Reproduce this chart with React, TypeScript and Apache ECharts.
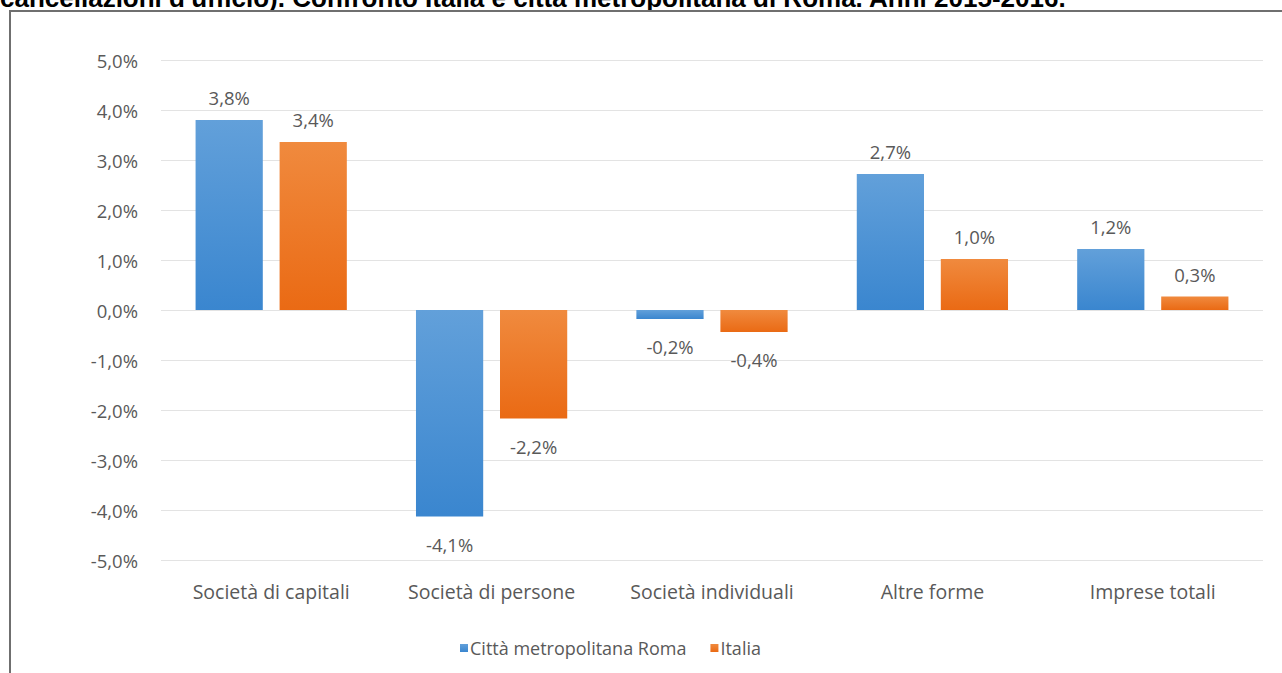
import React, { useEffect, useRef } from "react";
import * as echarts from "echarts";

const categories = [
  "Società di capitali",
  "Società di persone",
  "Società individuali",
  "Altre forme",
  "Imprese totali",
];
const romaValues = [3.8, -4.13, -0.18, 2.72, 1.22];
const italiaValues = [3.36, -2.17, -0.44, 1.02, 0.27];
const seriesNames = ["Città metropolitana Roma", "Italia"];
const yTicks = [-5, -4, -3, -2, -1, 0, 1, 2, 3, 4, 5];
const titleText =
  "cancellazioni d'ufficio). Confronto Italia e città metropolitana di Roma. Anni 2015-2016.";

const FONT = "Open Sans";
const TXT = "#595959";
const FS = 18;

const fmt = (v: number) => v.toFixed(1).replace(".", ",") + "%";

function buildData(values: number[]) {
  return values.map((v) => ({
    value: v,
    label:
      v < 0
        ? { position: "bottom", distance: 18 }
        : { position: "top", distance: 13 },
  }));
}

export default function App() {
  const ref = useRef<HTMLDivElement>(null);
  useEffect(() => {
    if (!ref.current) return;
    const chart = echarts.init(ref.current, undefined, { renderer: "svg" });
    const blue = new echarts.graphic.LinearGradient(0, 0, 0, 1, [
      { offset: 0, color: "#62a0da" },
      { offset: 1, color: "#3a86cf" },
    ]);
    const orange = new echarts.graphic.LinearGradient(0, 0, 0, 1, [
      { offset: 0, color: "#f08a3e" },
      { offset: 1, color: "#ea6a14" },
    ]);
    const labelCommon = {
      show: true,
      color: TXT,
      fontFamily: FONT,
      fontSize: 18.5,
      formatter: (p: any) => fmt(p.value),
    };
    chart.setOption({
      animation: false,
      backgroundColor: "#ffffff",
      textStyle: { fontFamily: FONT },
      graphic: [
        {
          type: "text",
          left: 0,
          top: -15,
          style: {
            text: titleText,
            fontFamily: "Liberation Sans",
            fontWeight: "bold",
            fontSize: 26,
            fill: "#000000",
          },
        },
        {
          type: "line",
          shape: { x1: 9, y1: 11, x2: 1282, y2: 11 },
          style: { stroke: "#6f6f6f", lineWidth: 2 },
        },
        {
          type: "line",
          shape: { x1: 10, y1: 10, x2: 10, y2: 673 },
          style: { stroke: "#6f6f6f", lineWidth: 2 },
        },
      ],
      legend: {
        left: 455,
        top: 634,
        icon: "rect",
        itemWidth: 8,
        itemHeight: 8,
        itemGap: 24,
        textStyle: { color: TXT, fontFamily: FONT, fontSize: FS, padding: [0, 0, 0, -3] },
        data: seriesNames,
      },
      grid: { left: 161, right: 19, top: 60, bottom: 113, containLabel: false },
      xAxis: {
        type: "category",
        data: categories,
        axisLine: { show: false, onZero: false },
        axisTick: { show: false },
        axisLabel: { color: TXT, fontFamily: FONT, fontSize: 19.5, margin: 21 },
        splitLine: { show: false },
      },
      yAxis: {
        type: "value",
        min: yTicks[0],
        max: yTicks[yTicks.length - 1],
        interval: 1,
        axisLine: { show: false },
        axisTick: { show: false },
        axisLabel: {
          color: TXT,
          fontFamily: FONT,
          fontSize: 18.5,
          margin: 23,
          formatter: (v: number) => fmt(v),
        },
        splitLine: { lineStyle: { color: "#e3e3e3", width: 1 } },
      },
      series: [
        {
          name: seriesNames[0],
          type: "bar",
          data: buildData(romaValues),
          barWidth: "30.5%",
          barGap: "25%",
          itemStyle: { color: blue },
          label: labelCommon,
        },
        {
          name: seriesNames[1],
          type: "bar",
          data: buildData(italiaValues),
          barWidth: "30.5%",
          barGap: "25%",
          itemStyle: { color: orange },
          label: labelCommon,
        },
      ],
    });
    return () => chart.dispose();
  }, []);
  return (
    <div
      ref={ref}
      style={{ position: "fixed", left: 0, top: 0, width: 1282, height: 673 }}
    />
  );
}
